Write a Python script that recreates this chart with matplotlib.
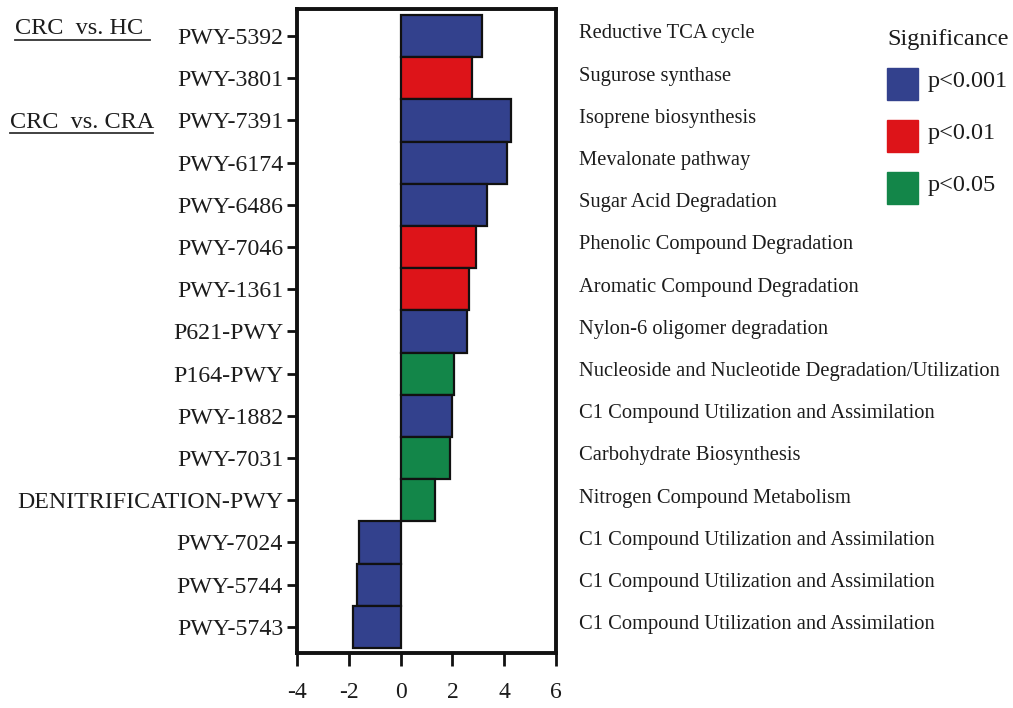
import matplotlib
matplotlib.use("Agg")
import matplotlib.pyplot as plt
from matplotlib.patches import Rectangle
from matplotlib.lines import Line2D
import matplotlib.transforms as mtransforms

plt.rcParams['font.family'] = ['Liberation Serif', 'DejaVu Serif']

pathways = ["PWY-5392", "PWY-3801", "PWY-7391", "PWY-6174", "PWY-6486", "PWY-7046",
            "PWY-1361", "P621-PWY", "P164-PWY", "PWY-1882", "PWY-7031",
            "DENITRIFICATION-PWY", "PWY-7024", "PWY-5744", "PWY-5743"]
values = [3.15, 2.77, 4.27, 4.09, 3.35, 2.93, 2.65, 2.57, 2.07, 1.98, 1.92, 1.31,
          -1.59, -1.67, -1.84]
significance = ["p<0.001", "p<0.01", "p<0.001", "p<0.001", "p<0.001", "p<0.01",
                "p<0.01", "p<0.001", "p<0.05", "p<0.001", "p<0.05", "p<0.05",
                "p<0.001", "p<0.001", "p<0.001"]
descriptions = ["Reductive TCA cycle", "Sugurose synthase", "Isoprene biosynthesis",
                "Mevalonate pathway", "Sugar Acid Degradation",
                "Phenolic Compound Degradation", "Aromatic Compound Degradation",
                "Nylon-6 oligomer degradation",
                "Nucleoside and Nucleotide Degradation/Utilization",
                "C1 Compound Utilization and Assimilation", "Carbohydrate Biosynthesis",
                "Nitrogen Compound Metabolism",
                "C1 Compound Utilization and Assimilation",
                "C1 Compound Utilization and Assimilation",
                "C1 Compound Utilization and Assimilation"]
sig_levels = ["p<0.001", "p<0.01", "p<0.05"]
sig_colors = {"p<0.001": "#33418d", "p<0.01": "#dd1419", "p<0.05": "#138649"}
x_ticks = [-4, -2, 0, 2, 4, 6]

txt = '#1c1c1c'
W, H = 1013, 708
fig = plt.figure(figsize=(W / 100, H / 100), dpi=100)
ax = fig.add_axes([297 / W, 1 - 653 / H, (556 - 297) / W, (653 - 9) / H])

ypos = list(range(len(pathways)))
ax.barh(ypos, values, height=1.0, color=[sig_colors[s] for s in significance],
        edgecolor='#111111', linewidth=1.6)
ax.set_xlim(-4, 6)
ax.set_ylim(len(pathways) - 0.5 + 0.12, -0.5 - 0.14)
ax.set_yticks(ypos)
ax.set_yticklabels(pathways, fontsize=17.2, color=txt)
ax.set_xticks(x_ticks)
ax.set_xticklabels([str(v) for v in x_ticks], fontsize=17, color=txt)
for s in ax.spines.values():
    s.set_linewidth(2.8)
    s.set_color('#111111')
ax.tick_params(axis='y', length=7, width=2, pad=3, colors='#111111', labelcolor=txt)
ax.tick_params(axis='x', length=9, width=2, pad=12, colors='#111111', labelcolor=txt)

trans = mtransforms.blended_transform_factory(ax.transAxes, ax.transData)
for i, d in enumerate(descriptions):
    ax.text((579 - 297) / 259, i - 0.05, d, transform=trans, ha='left', va='center',
            fontsize=14.8, color=txt, clip_on=False)

# group labels
for label, x0, x1, y in [("CRC  vs. HC", 15, 150, 29), ("CRC  vs. CRA", 10, 153, 122)]:
    fig.text(x0 / W, 1 - y / H, label, ha='left', va='center', fontsize=17.5, color=txt)
    fig.add_artist(Line2D([x0 / W, x1 / W], [1 - (y + 11) / H] * 2, color='#333333', lw=1.3))

# legend
fig.text(887 / W, 1 - 40 / H, "Significance", ha='left', va='center', fontsize=17.5, color=txt)
for k, lev in enumerate(sig_levels):
    yc = 84 + k * 52
    fig.add_artist(Rectangle((887 / W, 1 - (yc + 16) / H), 31 / W, 32 / H,
                             color=sig_colors[lev], transform=fig.transFigure))
    fig.text(928 / W, 1 - (yc - 2) / H, lev, ha='left', va='center', fontsize=17.5, color=txt)

fig.savefig("out.png", dpi=100, facecolor='white')
